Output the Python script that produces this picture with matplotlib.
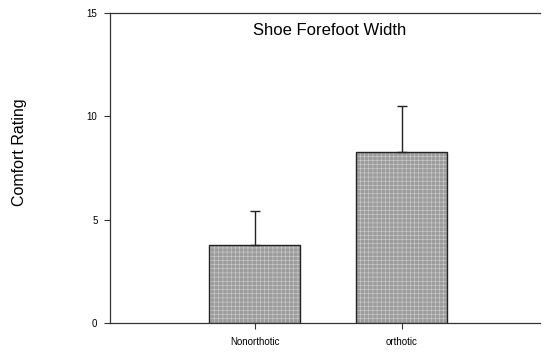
import matplotlib
matplotlib.use("Agg")
import matplotlib.pyplot as plt

categories = ["Nonorthotic", "orthotic"]
means = [3.77, 8.27]
errors = [1.65, 2.25]
yticks = [0, 5, 10, 15]

plt.rcParams['font.family'] = ['Liberation Sans', 'DejaVu Sans']
plt.rcParams['hatch.linewidth'] = 0.4

fig = plt.figure(figsize=(5.45, 3.53), dpi=100)
ax = fig.add_axes([110/545, 1 - 323/353, 430/545, 310/353])

x = list(range(len(categories)))
ax.bar(x, means, width=0.62, color='#9c9c9c', edgecolor='#cfcfcf', linewidth=0,
       hatch='++++', zorder=2)
ax.bar(x, means, width=0.62, color='none', edgecolor='#222222', linewidth=1.0, zorder=2.5)
ax.errorbar(x, means, yerr=[[0, 0], errors], fmt='none', ecolor='#222222',
            elinewidth=1.0, capsize=3.5, capthick=1.0, zorder=3)

ax.set_xlim(-0.986, 1.94)
ax.set_ylim(0, 15)
ax.set_yticks(yticks)
ax.set_yticklabels([str(t) for t in yticks], fontsize=7)
ax.set_xticks(x)
ax.set_xticklabels(categories, fontsize=7)
ax.tick_params(axis='both', direction='out', length=4, width=0.8, color='#333333')
ax.tick_params(axis='y', pad=5)
ax.tick_params(axis='x', pad=6)

for s in ['left', 'bottom', 'top']:
    ax.spines[s].set_linewidth(0.9)
    ax.spines[s].set_color('#333333')
ax.spines['right'].set_visible(False)

ax.text(0.51, 0.945, "Shoe Forefoot Width", transform=ax.transAxes,
        ha='center', va='center', fontsize=12)
fig.text(20/545, 1 - 152/353, "Comfort Rating", rotation=90, ha='center', va='center', fontsize=11.5)

fig.savefig("out.png", dpi=100)
